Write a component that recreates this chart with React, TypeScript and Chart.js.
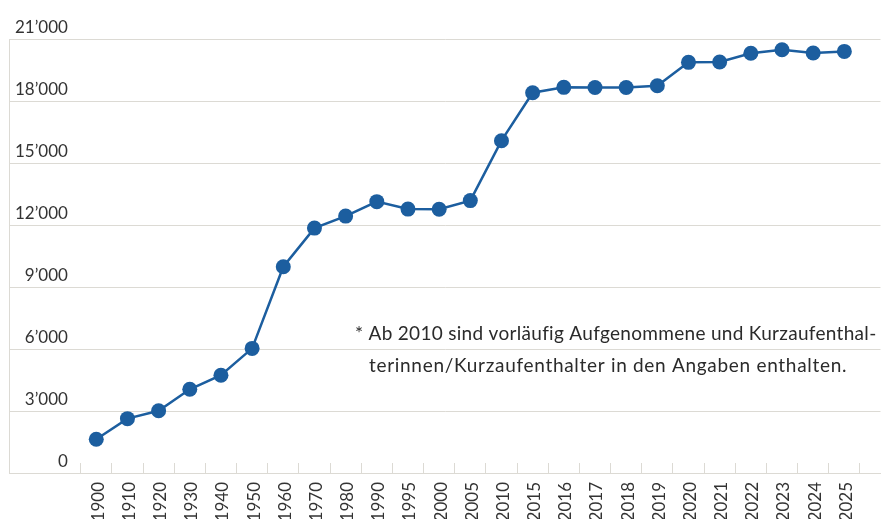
import React, { useEffect, useRef } from "react";
import { Chart, registerables } from "chart.js";

Chart.register(...registerables);

const years: string[] = [
  "1900", "1910", "1920", "1930", "1940", "1950", "1960", "1970", "1980", "1990",
  "1995", "2000", "2005", "2010", "2015", "2016", "2017", "2018", "2019", "2020",
  "2021", "2022", "2023", "2024", "2025",
];

const values: number[] = [
  1630, 2630, 3010, 4050, 4730, 6030, 9980, 11850, 12430, 13130,
  12770, 12760, 13180, 16080, 18400, 18660, 18650, 18650, 18740, 19870,
  19890, 20310, 20480, 20320, 20400,
];

const yMin = 0;
const yMax = 21000;
const yStep = 3000;

const noteLines: string[] = [
  "* Ab 2010 sind vorläufig Aufgenommene und Kurzaufenthal-",
  "terinnen/Kurzaufenthalter in den Angaben enthalten.",
];

const BLUE = "#1c5e9f";
const GRID = "#dcdad4";
const TEXT = "#333333";
const FONT = "Lato";

function fmt(v: number): string {
  const s = Math.round(v).toString();
  return s.replace(/\B(?=(\d{3})+(?!\d))/g, "\u2019");
}

const notePlugin = {
  id: "note",
  afterDraw(chart: any) {
    const { ctx, chartArea } = chart;
    ctx.save();
    ctx.font = `19px ${FONT}`;
    ctx.fillStyle = "#2b2b2b";
    ctx.textBaseline = "middle";
    ctx.textAlign = "left";
    const l = chartArea.left;
    try {
      (ctx as any).letterSpacing = "0.3px";
    } catch (e) {}
    ctx.fillText(noteLines[0], l + 346, 334);
    try {
      (ctx as any).letterSpacing = "0.7px";
    } catch (e) {}
    ctx.fillText(noteLines[1], l + 360, 366);
    ctx.restore();
  },
};

export default function App() {
  const ref = useRef<HTMLCanvasElement | null>(null);

  useEffect(() => {
    if (!ref.current) return;
    const data = values.map((v, i) => ({ x: i, y: v }));
    const chart = new Chart(ref.current, {
      type: "line",
      data: {
        datasets: [
          {
            data,
            borderColor: BLUE,
            backgroundColor: BLUE,
            borderWidth: 2.5,
            pointRadius: 7.5,
            pointHoverRadius: 7.5,
            pointBorderWidth: 0,
            pointBackgroundColor: BLUE,
            tension: 0,
            fill: false,
          },
        ],
      },
      options: {
        animation: false,
        responsive: true,
        maintainAspectRatio: false,
        layout: { padding: { left: 9, top: 39, right: 0, bottom: 0 } },
        plugins: {
          legend: { display: false },
          tooltip: { enabled: false },
        },
        scales: {
          x: {
            type: "linear",
            position: "bottom",
            min: -2.8,
            max: 25.16,
            afterBuildTicks: (scale: any) => {
              scale.ticks = years.map((_, i) => ({ value: i }));
            },
            afterFit: (scale: any) => {
              scale.height = 46;
            },
            grid: {
              display: true,
              offset: true,
              drawOnChartArea: false,
              drawTicks: true,
              tickLength: -10,
              color: GRID,
              lineWidth: 1,
            },
            border: { display: true, color: GRID, width: 1 },
            ticks: {
              autoSkip: false,
              minRotation: 90,
              maxRotation: 90,
              padding: 19,
              labelOffset: 2,
              color: TEXT,
              font: { family: FONT, size: 17 },
              callback: (value: any) => {
                const i = Math.round(Number(value));
                return years[i] ?? "";
              },
            },
          },
          y: {
            type: "linear",
            position: "left",
            min: yMin,
            max: yMax,
            afterFit: (scale: any) => {
              scale.width = 0;
            },
            grid: {
              display: true,
              color: GRID,
              lineWidth: 1,
              drawTicks: false,
            },
            border: { display: true, color: GRID, width: 1 },
            ticks: {
              stepSize: yStep,
              mirror: true,
              crossAlign: "far",
              padding: 6,
              labelOffset: -11,
              color: TEXT,
              font: { family: FONT, size: 17 },
              callback: (value: any) => fmt(Number(value)),
            },
          },
        },
      },
      plugins: [notePlugin],
    } as any);
    return () => chart.destroy();
  }, []);

  return (
    <div
      style={{
        position: "fixed",
        left: 0,
        top: 0,
        width: 888,
        height: 519,
        background: "#ffffff",
      }}
    >
      <canvas ref={ref} />
    </div>
  );
}
